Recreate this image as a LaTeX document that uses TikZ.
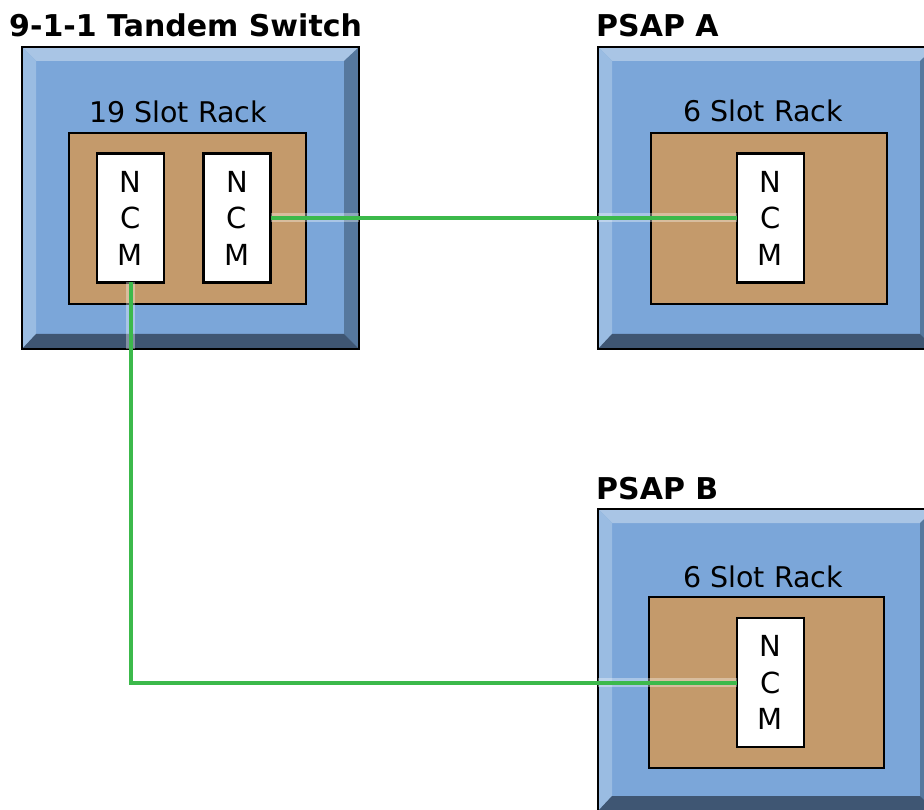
\documentclass[tikz,border=0pt]{standalone}
\usepackage{fontspec}
\setmainfont{DejaVu Sans}
\usetikzlibrary{calc}
\definecolor{face}{HTML}{7BA6D9}
\definecolor{bvtop}{HTML}{A9C5E5}
\definecolor{bvleft}{HTML}{9ABCE2}
\definecolor{bvright}{HTML}{56789E}
\definecolor{bvbottom}{HTML}{3F5673}
\definecolor{rackbrown}{HTML}{C49A6B}
\definecolor{linkgreen}{HTML}{3CB94B}
\newcommand\bevelframe[1]{%
  \fill[bvtop] (#1.north west) -- (#1.north east) -- ($(#1.north east)+(-14,14)$) -- ($(#1.north west)+(14,14)$) -- cycle;
  \fill[bvleft] (#1.north west) -- ($(#1.north west)+(14,14)$) -- ($(#1.south west)+(14,-15)$) -- (#1.south west) -- cycle;
  \fill[bvright] (#1.north east) -- ($(#1.north east)+(-15,14)$) -- ($(#1.south east)+(-15,-15)$) -- (#1.south east) -- cycle;
  \fill[bvbottom] (#1.south west) -- ($(#1.south west)+(14,-15)$) -- ($(#1.south east)+(-15,-15)$) -- (#1.south east) -- cycle;
  \draw[line width=2.4pt] (#1.north west) rectangle (#1.south east);}
\begin{document}
\begin{tikzpicture}[x=1pt,y=-1pt,
  outerbox/.style={fill=face, minimum width=337pt, minimum height=302pt, inner sep=0pt, outer sep=0pt},
  rackbox/.style={fill=rackbrown, draw=black, line width=2.2pt, inner sep=0pt, outer sep=0pt},
  ncmbox/.style={fill=white, draw=black, line width=2.2pt, minimum width=67pt, minimum height=129pt, inner sep=0pt, outer sep=0pt, align=center, font=\fontsize{29}{36.5}\selectfont},
  titletext/.style={font=\fontsize{30}{34}\selectfont\bfseries, anchor=base west, inner sep=0pt},
  racktext/.style={font=\fontsize{28.5}{34}\selectfont, anchor=base, inner sep=0pt},
  glow/.style={draw=white, opacity=0.35, line width=9pt},
  link/.style={draw=linkgreen, line width=4pt}]
\useasboundingbox (0,0) rectangle (924,810);
\clip (0,0) rectangle (924,810);
\fill[white] (0,0) rectangle (924,810);

% titles
\node[titletext] (ttitle) at (9,37) {9-1-1 Tandem Switch};
\node[titletext] (atitle) at (596,37) {PSAP A};
\node[titletext] (btitle) at (596,499) {PSAP B};

% outer boxes
\node[outerbox] (tbox) at (190.5,198) {};
\node[outerbox] (abox) at (766.5,198) {};
\node[outerbox] (bbox) at (766.5,660) {};
\bevelframe{tbox}
\bevelframe{abox}
\bevelframe{bbox}

% rack labels
\node[racktext] (tlabel) at (178,123) {19 Slot Rack};
\node[racktext] (alabel) at (763,122) {6 Slot Rack};
\node[racktext] (blabel) at (763,587) {6 Slot Rack};

% racks
\node[rackbox, minimum width=237pt, minimum height=171pt] (track) at (187.5,218.5) {};
\node[rackbox, minimum width=236pt, minimum height=171pt] (arack) at (769,218.5) {};
\node[rackbox, minimum width=235pt, minimum height=171pt] (brack) at (766.5,682.5) {};

% NCM cards
\node[ncmbox] (tn1) at (130.5,218) {N\\C\\M};
\node[ncmbox] (tn2) at (237,218) {N\\C\\M};
\node[ncmbox] (an) at (770.5,218) {N\\C\\M};
\node[ncmbox] (bn) at (770.5,682.5) {N\\C\\M};

% glows near the boxes
\draw[glow] (tn2.east) -- (tbox.east |- tn2.east);
\draw[glow] (abox.west |- an.west) -- (an.west);
\draw[glow] (tn1.south) -- (tn1.south |- tbox.south);
\draw[glow] (bbox.west |- bn.west) -- (bn.west);

% links
\draw[link] (tn2.east) -- (an.west);
\draw[link] (tn1.south) |- (bn.west);
\end{tikzpicture}
\end{document}
